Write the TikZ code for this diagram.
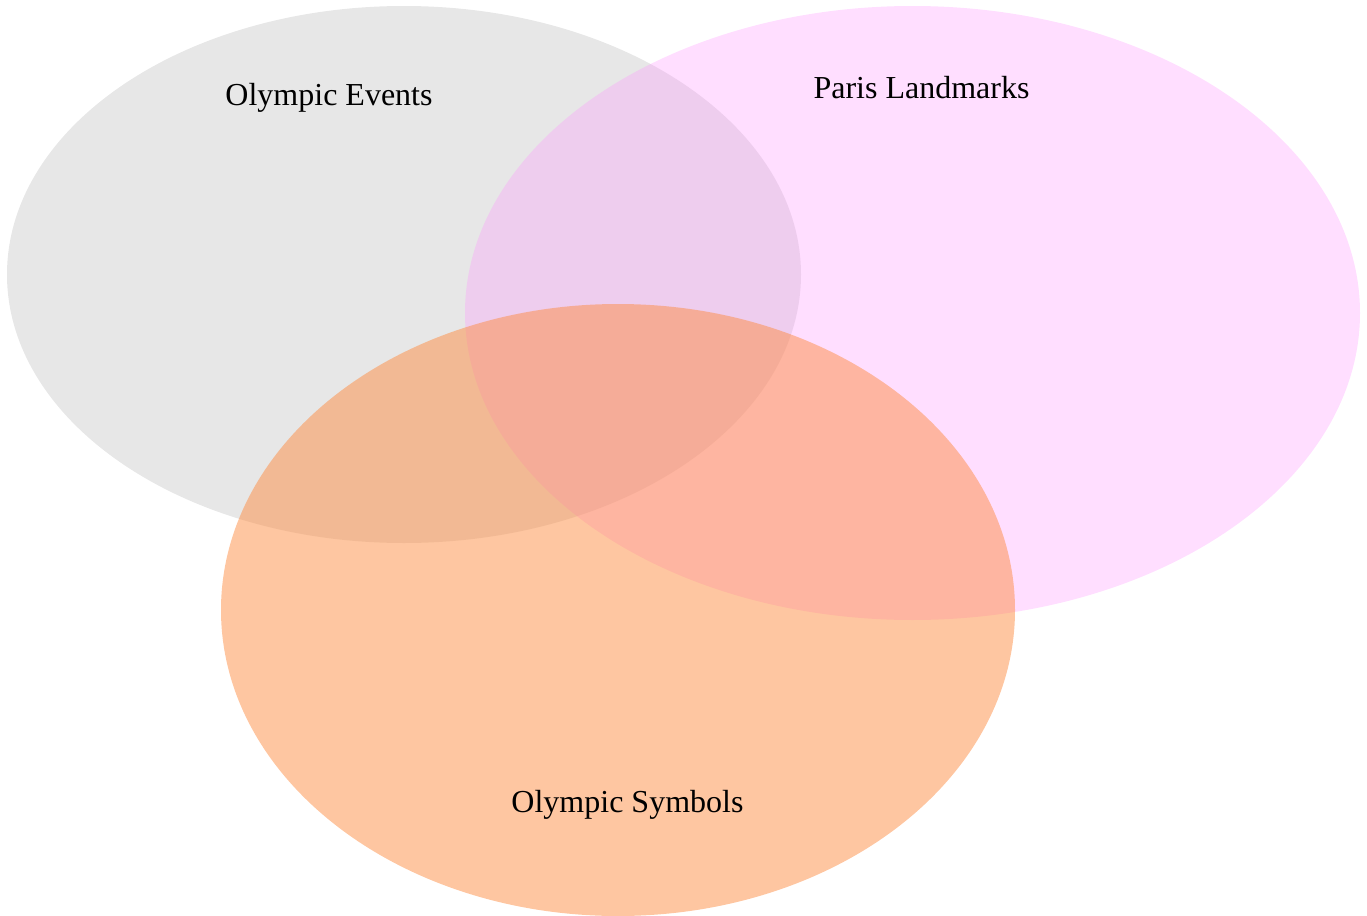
\documentclass[tikz,border=0pt]{standalone}
\usepackage{fontspec}
\setmainfont{Liberation Serif}
\usepackage{tikz}
\usetikzlibrary{positioning}
\definecolor{eventsgray}{RGB}{175,175,175}
\definecolor{parispink}{RGB}{255,145,255}
\definecolor{symbolsorange}{RGB}{253,141,67}
\tikzstyle{set}=[draw=none]
\tikzstyle{setlabel}=[font=\fontsize{16}{19}\selectfont, inner sep=0pt]
\begin{document}
\begin{tikzpicture}[x=0.5pt, y=-0.5pt]
  \useasboundingbox (0,0) rectangle (1367,916);
  % the three sets
  \fill[set, eventsgray, opacity=.3] (404,274.5) ellipse [x radius=397, y radius=268.5];
  \fill[set, parispink, opacity=.3] (912.5,313) ellipse [x radius=447.5, y radius=307];
  \fill[set, symbolsorange, opacity=.5] (618,610) ellipse [x radius=397, y radius=306];
  % labels
  \node[setlabel] (events) at (329,98) {Olympic Events};
  \node[setlabel] (paris) at (921.5,88) {Paris Landmarks};
  \node[setlabel] (symbols) at (627.5,805) {Olympic Symbols};
\end{tikzpicture}
\end{document}
